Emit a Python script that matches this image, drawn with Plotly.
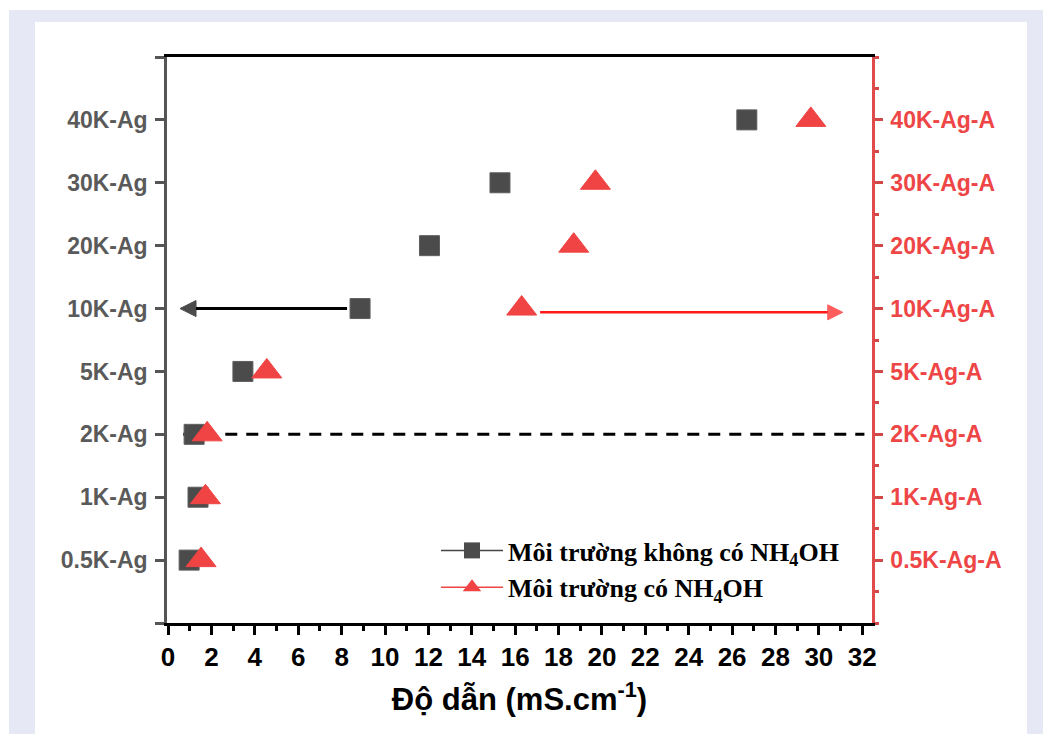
import plotly.graph_objects as go

# ---------------- data ----------------
categories_left = ["0.5K-Ag", "1K-Ag", "2K-Ag", "5K-Ag", "10K-Ag", "20K-Ag", "30K-Ag", "40K-Ag"]
categories_right = ["0.5K-Ag-A", "1K-Ag-A", "2K-Ag-A", "5K-Ag-A", "10K-Ag-A", "20K-Ag-A", "30K-Ag-A", "40K-Ag-A"]
cond_without_nh4oh = [0.97, 1.38, 1.20, 3.45, 8.85, 12.05, 15.30, 26.68]   # mS/cm, black squares
cond_with_nh4oh = [1.52, 1.72, 1.80, 4.55, 16.30, 18.70, 19.70, 29.63]     # mS/cm, red triangles
x_tick_values = list(range(0, 33, 2))

name_without = "Môi trường không có NH<sub>4</sub>OH"
name_with = "Môi trường có NH<sub>4</sub>OH"
x_title = "Độ dẫn (mS.cm<sup>-1</sup>)"

# ---------------- styles ----------------
SQ_COLOR = "#4b4b4b"
RED = "#f04444"
RED_TEXT = "#ee4646"
GREY_TEXT = "#5a5a5a"
SANS = "Liberation Sans, Arial, sans-serif"
SERIF = "Liberation Serif, Times New Roman, serif"

W, H = 1043, 734
ML, MR, MT, MB = 167, 171, 57, 111
PW, PH = W - ML - MR, H - MT - MB


def px_x(p):
    return (p - ML) / PW


def px_y(p):
    return (H - MB - p) / PH


y_left = [categories_left.index(c) for c in categories_left]
y_right = [categories_right.index(c) for c in categories_right]
n = len(categories_left)

fig = go.Figure()

fig.add_trace(go.Scatter(
    x=cond_without_nh4oh, y=y_left, mode="markers", yaxis="y",
    marker=dict(symbol="square", size=20, color=SQ_COLOR, line=dict(color="#5e5e5e", width=1)),
    showlegend=False, hoverinfo="skip"))
fig.add_trace(go.Scatter(
    x=cond_with_nh4oh, y=y_right, mode="markers", yaxis="y2",
    marker=dict(symbol="triangle-up", size=26, color=RED, line=dict(color=RED, width=1)),
    showlegend=False, hoverinfo="skip"))

# legend entries
fig.add_trace(go.Scatter(
    x=[None], y=[None], mode="lines+markers", name=name_without, legendgroup="a",
    line=dict(color="#444444", width=1.5),
    marker=dict(symbol="square", size=18, color=SQ_COLOR)))
fig.add_trace(go.Scatter(
    x=[None], y=[None], mode="lines+markers", name=name_with, legendgroup="b", yaxis="y2",
    line=dict(color=RED, width=1.5),
    marker=dict(symbol="triangle-up", size=20, color=RED)))

# dashed reference line at 2K-Ag
y2k = categories_left.index("2K-Ag")
fig.add_shape(type="line", xref="x", yref="y", x0=0.7, x1=32.1, y0=y2k, y1=y2k,
              line=dict(color="black", width=3, dash="12px,9px"), layer="below")

# background panels (paper)
fig.add_shape(type="rect", xref="paper", yref="paper", layer="below",
              x0=px_x(9), x1=px_x(W + 20), y0=px_y(H + 20), y1=px_y(10),
              fillcolor="#e6e9f5", line=dict(width=0))
fig.add_shape(type="rect", xref="paper", yref="paper", layer="below",
              x0=px_x(35), x1=px_x(1027), y0=px_y(H + 20), y1=px_y(22),
              fillcolor="white", line=dict(width=0))

# arrows (drawn as line traces with an arrow marker at the tip)
y10 = categories_left.index("10K-Ag")
fig.add_trace(go.Scatter(
    x=[8.25, 0.55], y=[y10, y10], mode="lines+markers", yaxis="y",
    line=dict(color="black", width=3),
    marker=dict(symbol="arrow-up", size=[0, 16], angleref="previous", color="black",
                line=dict(color="black", width=1)),
    showlegend=False, hoverinfo="skip"))
y10a = categories_right.index("10K-Ag-A")
fig.add_trace(go.Scatter(
    x=[17.15, 31.1], y=[y10a - 0.06, y10a - 0.06], mode="lines+markers", yaxis="y2",
    line=dict(color="#ff1a1a", width=2.5),
    marker=dict(symbol="arrow-up", size=[0, 15], angleref="previous", color="#ff1a1a",
                line=dict(color="#ff1a1a", width=1)),
    showlegend=False, hoverinfo="skip"))

fig.update_layout(
    width=W, height=H,
    margin=dict(l=ML, r=MR, t=MT, b=MB, pad=0),
    paper_bgcolor="white", plot_bgcolor="rgba(0,0,0,0)",
    xaxis=dict(
        range=[-0.05, 32.45], tickvals=x_tick_values, ticks="outside", ticklen=9,
        tickwidth=2.5, tickcolor="black", showline=True, linecolor="black", linewidth=2.5,
        mirror=True, showgrid=False, zeroline=False,
        minor=dict(dtick=1, tick0=0, ticks="outside", ticklen=5, tickwidth=2.5, tickcolor="black", showgrid=False),
        tickfont=dict(family=SANS, size=26, color="black", weight="bold"),
        title=dict(text=x_title, font=dict(family=SANS, size=31, color="black", weight="bold"), standoff=18),
    ),
    yaxis=dict(
        range=[-1, n], tickvals=y_left, ticktext=categories_left, ticks="outside",
        ticklen=9, tickwidth=2.5, tickcolor="#555555", showline=True, linecolor="#555555",
        linewidth=2.5, showgrid=False, zeroline=False, ticklabelstandoff=3,
        minor=dict(tick0=-1, dtick=n + 1, ticks="outside", ticklen=9, tickwidth=2.5, tickcolor="#555555", showgrid=False),
        tickfont=dict(family=SANS, size=23, color=GREY_TEXT, weight="bold"),
    ),
    yaxis2=dict(
        range=[-1, n], overlaying="y", side="right", tickvals=y_right,
        ticktext=categories_right, ticks="outside", ticklen=8, tickwidth=2.5, tickcolor="#d04848",
        showline=True, linecolor="#e04a4a", linewidth=2.5, showgrid=False, zeroline=False,
        minor=dict(dtick=0.5, tick0=-1, ticks="outside", ticklen=4, tickwidth=2.5, tickcolor="#d04848", showgrid=False),
        ticklabelstandoff=3,
        tickfont=dict(family=SANS, size=23, color=RED_TEXT, weight="bold"),
    ),
    legend=dict(
        x=px_x(436), y=px_y(527), xanchor="left", yanchor="top",
        bgcolor="rgba(0,0,0,0)", borderwidth=0, traceorder="grouped", tracegroupgap=0,
        itemwidth=62, itemsizing="trace",
        font=dict(family=SERIF, size=26, color="black", weight="bold"),
    ),
)

fig.write_html("out.html")
